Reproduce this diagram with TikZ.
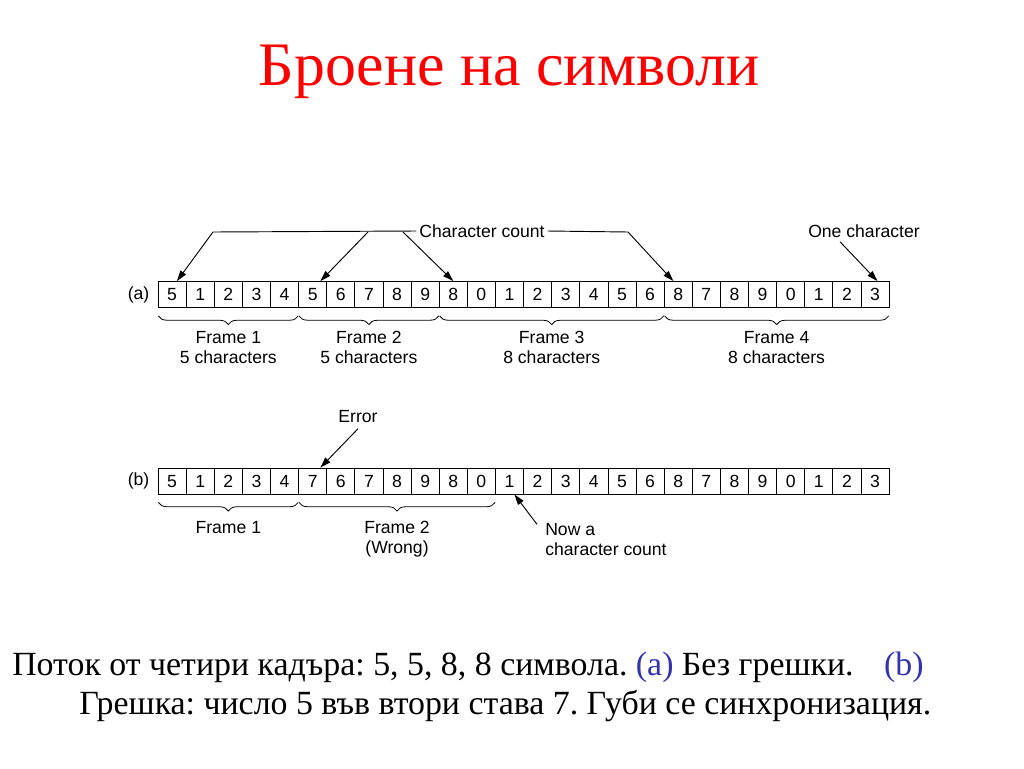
\documentclass[tikz,border=0pt]{standalone}
\usepackage{fontspec}
\setmainfont{Liberation Serif}
\newfontfamily\diagfont{Liberation Sans}
\usetikzlibrary{arrows.meta,positioning,decorations.pathreplacing}
\definecolor{titlered}{RGB}{255,0,0}
\definecolor{labblue}{RGB}{51,51,178}
\frenchspacing
\tikzset{
  cellbox/.style={draw,line width=0.6pt,minimum width=21.09pt,minimum height=19.5pt,inner sep=0pt,text height=9.45pt,text depth=0pt,font=\diagfont\fontsize{13.2}{15}\selectfont},
  lbl/.style={inner sep=0pt,font=\diagfont\fontsize{13.2}{15}\selectfont},
  arr/.style={-{Triangle[length=8pt,width=5pt]},line width=0.7pt},
  brc/.style={decorate,decoration={brace,mirror,amplitude=6.5pt},line width=0.6pt},
  frm/.style={lbl,align=center,anchor=north,midway,yshift=-11.5pt}
}
\begin{document}
\begin{tikzpicture}[x=0.75pt,y=-0.75pt]
\useasboundingbox (0,0) rectangle (1024,768);
% title
\node[anchor=base,text=titlered,font=\fontsize{46.4}{50}\selectfont] (title) at (509,85) {Броене на символи};
% row (a)
\foreach \d [count=\i] in {5,1,2,3,4,5,6,7,8,9,8,0,1,2,3,4,5,6,8,7,8,9,0,1,2,3}
  \node[cellbox] (a\i) at ({158+(\i-0.5)*28.12},294.5) {\d};
\node[lbl,left=6pt of a1] (la) {(a)};
\node[lbl] (cc) at (482,231) {Character count};
\node[lbl] (oc) at (864,231) {One character};
\coordinate (k1) at (213,232);
\coordinate (k2) at (368,232);
\coordinate (k3) at (403,232);
\coordinate (k4) at (628,232);
\draw[line width=0.7pt] (k1) -- ([xshift=-2pt]cc.west);
\draw[line width=0.7pt] ([xshift=2pt]cc.east) -- (k4);
\draw[arr] (k1) -- (a1.70);
\draw[arr] (k2) -- (a6.60);
\draw[arr] (k3) -- (a11.north);
\draw[arr] (k4) -- (a19.110);
\draw[arr] ([xshift=-18pt,yshift=-3pt]oc.south) -- (a26.80);
% frames of (a)
\draw[brc] ([xshift=0.6pt,yshift=-6pt]a1.south west) -- ([xshift=-0.6pt,yshift=-6pt]a5.south east) node[frm] (fa1) {Frame 1\\5 characters};
\draw[brc] ([xshift=0.6pt,yshift=-6pt]a6.south west) -- ([xshift=-0.6pt,yshift=-6pt]a10.south east) node[frm] (fa2) {Frame 2\\5 characters};
\draw[brc] ([xshift=0.6pt,yshift=-6pt]a11.south west) -- ([xshift=-0.6pt,yshift=-6pt]a18.south east) node[frm] (fa3) {Frame 3\\8 characters};
\draw[brc] ([xshift=0.6pt,yshift=-6pt]a19.south west) -- ([xshift=-0.6pt,yshift=-6pt]a26.south east) node[frm] (fa4) {Frame 4\\8 characters};
% row (b)
\foreach \d [count=\i] in {5,1,2,3,4,7,6,7,8,9,8,0,1,2,3,4,5,6,8,7,8,9,0,1,2,3}
  \node[cellbox] (b\i) at ({158+(\i-0.5)*28.12},481) {\d};
\node[lbl,left=6pt of b1] (lb) {(b)};
\node[lbl] (err) at (358,417) {Error};
\draw[arr] ([yshift=-4pt]err.south) -- (b6.60);
\node[lbl,align=left,anchor=north west] (now) at (545,523) {Now a\\character count};
\draw[arr] ([xshift=-6pt,yshift=-1pt]now.north west) -- (b13.-70);
\draw[brc] ([xshift=0.6pt,yshift=-6pt]b1.south west) -- ([xshift=-0.6pt,yshift=-6pt]b5.south east) node[frm,yshift=-2.2pt] (fb1) {Frame 1};
\draw[brc] ([xshift=0.6pt,yshift=-6pt]b6.south west) -- ([xshift=-0.6pt,yshift=-6pt]b12.south east) node[frm,yshift=-2.2pt] (fb2) {Frame 2\\(Wrong)};
% caption
\node[anchor=base west,inner sep=0pt,font=\fontsize{25.4}{29}\selectfont] (cap1) at (12,675) {Поток от четири кадъра: 5, 5, 8, 8 символа. \textcolor{labblue}{(a)} Без грешки.\hspace{0.9em}\textcolor{labblue}{(b)}};
\node[anchor=base west,inner sep=0pt,font=\fontsize{25.4}{29}\selectfont] (cap2) at (79,714) {Грешка: число 5 във втори става 7. Губи се синхронизация.};
\end{tikzpicture}
\end{document}
